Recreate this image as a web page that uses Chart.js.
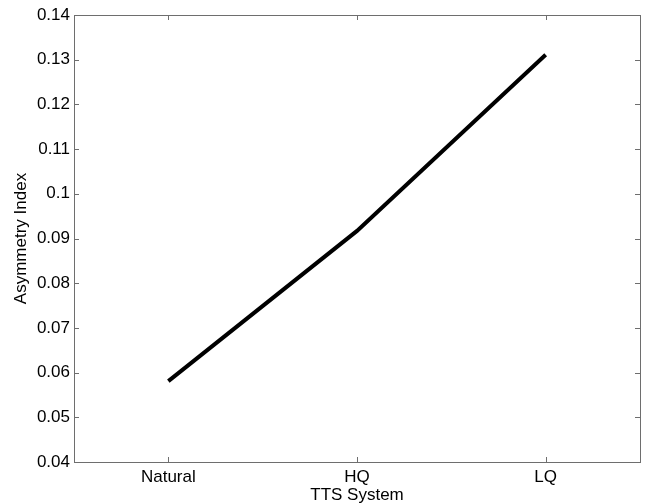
<!DOCTYPE html>
<html>
<head>
<meta charset="utf-8">
<script src="https://cdn.jsdelivr.net/npm/chart.js@4/dist/chart.umd.min.js"></script>
<style>
  html, body { margin: 0; padding: 0; background: #fff; }
  #wrap { width: 649px; height: 504px; }
</style>
</head>
<body>
<div id="wrap"><canvas id="c" width="649" height="504"></canvas></div>
<script>
const sistemas = ['Natural', 'HQ', 'LQ']
const indiceAssimetria = [0.0581, 0.0917, 0.1311]
const yTicks = [0.04, 0.05, 0.06, 0.07, 0.08, 0.09, 0.1, 0.11, 0.12, 0.13, 0.14]

const corEixo = '#6e6e6e'
const fonte = { family: 'Arial, "Liberation Sans", sans-serif', size: 17 }

// moldura + ticks para dentro, como no matlab
const molduraPlugin = {
  id: 'moldura',
  afterDraw(chart) {
    const { ctx, chartArea: a, scales } = chart
    const tam = 5
    ctx.save()
    ctx.strokeStyle = corEixo
    ctx.lineWidth = 1
    ctx.strokeRect(a.left + 0.5, a.top + 0.5, a.right - a.left, a.bottom - a.top)
    ctx.beginPath()
    scales.x.ticks.forEach((t, i) => {
      const px = Math.round(scales.x.getPixelForTick(i)) + 0.5
      ctx.moveTo(px, a.bottom); ctx.lineTo(px, a.bottom - tam)
      ctx.moveTo(px, a.top); ctx.lineTo(px, a.top + tam)
    })
    yTicks.forEach(v => {
      const py = Math.round(scales.y.getPixelForValue(v)) + 0.5
      ctx.moveTo(a.left, py); ctx.lineTo(a.left + tam, py)
      ctx.moveTo(a.right, py); ctx.lineTo(a.right - tam, py)
    })
    ctx.stroke()
    ctx.restore()
  }
}

new Chart(document.getElementById('c'), {
  type: 'line',
  data: {
    labels: sistemas,
    datasets: [{
      data: indiceAssimetria,
      borderColor: '#000',
      borderWidth: 4,
      pointRadius: 0,
      tension: 0,
      fill: false
    }]
  },
  options: {
    responsive: false,
    animation: false,
    layout: { padding: { left: 0, top: 15, right: 9, bottom: 0 } },
    plugins: { legend: { display: false }, tooltip: { enabled: false } },
    scales: {
      x: {
        type: 'category',
        offset: true,
        grid: { display: false, drawTicks: false },
        border: { display: false },
        ticks: { color: '#000', font: fonte, padding: 5, maxRotation: 0 },
        title: { display: true, text: 'TTS System', color: '#000', font: { ...fonte, lineHeight: 1 }, padding: { top: 0, bottom: 0.5 } },
        afterFit(s) { s.height = 42 }
      },
      y: {
        min: 0.04,
        max: 0.14,
        grid: { display: false, drawTicks: false },
        border: { display: false },
        afterBuildTicks(s) { s.ticks = yTicks.map(v => ({ value: v })) },
        ticks: {
          color: '#000',
          font: fonte,
          padding: 4,
          callback: v => String(parseFloat(Number(v).toFixed(2)))
        },
        title: { display: true, text: 'Asymmetry Index', color: '#000', font: { ...fonte, lineHeight: 1 }, padding: { top: 12.5, bottom: 0 } },
        afterFit(s) { s.width = 74 }
      }
    }
  },
  plugins: [molduraPlugin]
})
</script>
</body>
</html>
